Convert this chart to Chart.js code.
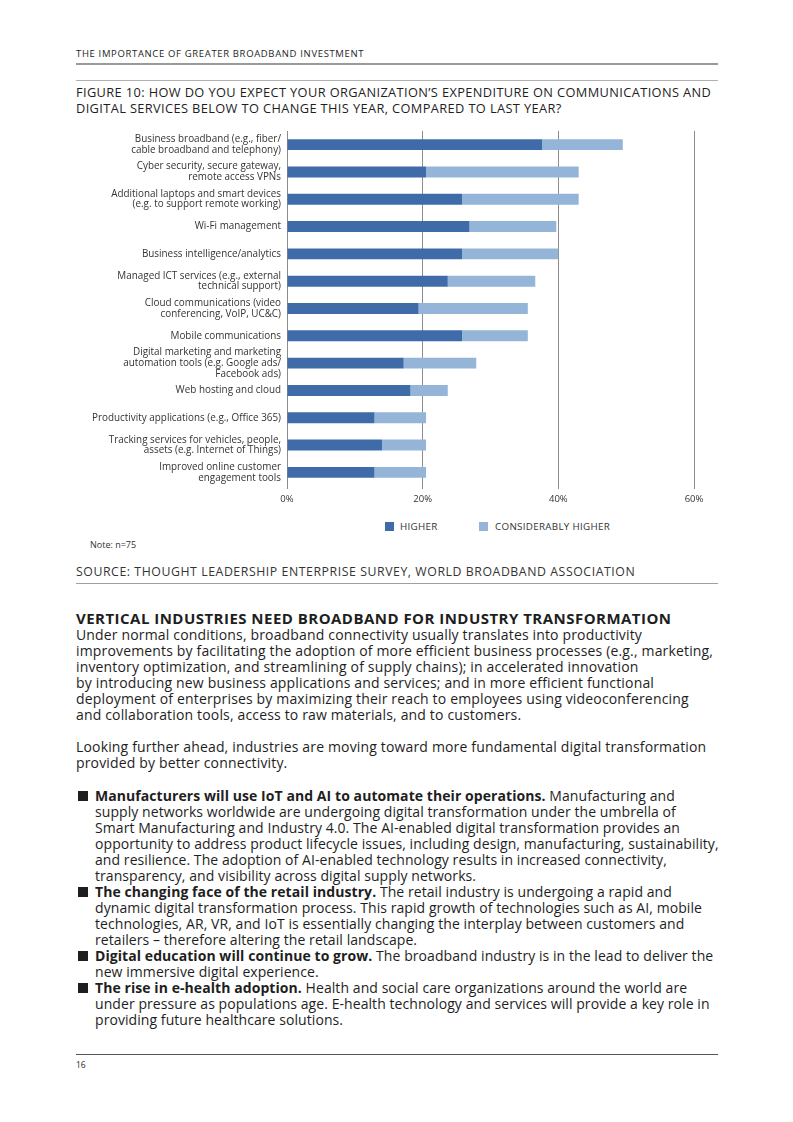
<!DOCTYPE html>
<html>
<head>
<meta charset="utf-8">
<script src="https://cdn.jsdelivr.net/npm/chart.js@4.4.0/dist/chart.umd.min.js"></script>
<style>
  body { margin: 0; background: #fff; font-family: "Open Sans", sans-serif; color: #1e1e1e; }
  .page { position: relative; width: 793px; height: 1122px; overflow: hidden; }
  .abs { position: absolute; white-space: nowrap; }
  .rule { position: absolute; left: 76px; width: 642px; }
  .header { left: 76px; top: 47px; font-size: 9.5px; letter-spacing: 0.65px; }
  .title { left: 76px; top: 84px; font-size: 12.8px; line-height: 16px; letter-spacing: 0.38px; }
  .legend { top: 520px; font-size: 9.8px; letter-spacing: 0.3px; color: #333; }
  .legend span.box { display: inline-block; width: 9px; height: 9px; vertical-align: top; }
  .note { left: 90px; top: 538px; font-size: 9px; color: #333; }
  .source { left: 76px; top: 563px; font-size: 12.3px; letter-spacing: 0.56px; color: #333; }
  .h2 { left: 76px; top: 608px; font-size: 15px; letter-spacing: 0.47px; font-weight: 700; }
  .body { left: 76px; font-size: 14px; letter-spacing: 0.16px; line-height: 16px; }
  .bul { position: absolute; left: 95px; font-size: 14px; letter-spacing: 0.07px; line-height: 16px; white-space: nowrap; }
  .sq { position: absolute; left: 78px; width: 10px; height: 10px; background: #1e1e1e; }
  .pg { left: 76px; top: 1059px; font-size: 8.5px; }
</style>
</head>
<body>
<div class="page">
  <div class="abs header">THE IMPORTANCE OF GREATER BROADBAND INVESTMENT</div>
  <div class="rule" style="top:63px;height:2px;background:#9a9a9a"></div>
  <div class="rule" style="top:80px;height:1px;background:#b0b0b0"></div>
  <div class="abs title">FIGURE 10: HOW DO YOU EXPECT YOUR ORGANIZATION’S EXPENDITURE ON COMMUNICATIONS AND<br>DIGITAL SERVICES BELOW TO CHANGE THIS YEAR, COMPARED TO LAST YEAR?</div>

  <canvas id="chart" width="640" height="381" style="position:absolute;left:80px;top:125px"></canvas>

  <div class="abs legend" style="left:385px;top:522px"><span class="box" style="background:#3f6ca8"></span></div>
  <div class="abs legend" style="left:400px">HIGHER</div>
  <div class="abs legend" style="left:479px;top:522px"><span class="box" style="background:#94b5d8"></span></div>
  <div class="abs legend" style="left:495px">CONSIDERABLY HIGHER</div>

  <div class="abs note">Note: n=75</div>
  <div class="abs source">SOURCE: THOUGHT LEADERSHIP ENTERPRISE SURVEY, WORLD BROADBAND ASSOCIATION</div>
  <div class="rule" style="top:583px;height:1px;background:#a0a0a0"></div>

  <div class="abs h2">VERTICAL INDUSTRIES NEED BROADBAND FOR INDUSTRY TRANSFORMATION</div>
  <div class="abs body" style="top:627px">Under normal conditions, broadband connectivity usually translates into productivity<br>improvements by facilitating the adoption of more efficient business processes (e.g., marketing,<br>inventory optimization, and streamlining of supply chains); in accelerated innovation<br>by introducing new business applications and services; and in more efficient functional<br>deployment of enterprises by maximizing their reach to employees using videoconferencing<br>and collaboration tools, access to raw materials, and to customers.</div>
  <div class="abs body" style="top:739px">Looking further ahead, industries are moving toward more fundamental digital transformation<br>provided by better connectivity.</div>

  <div class="sq" style="top:791px"></div>
  <div class="bul" style="top:788px"><b>Manufacturers will use IoT and AI to automate their operations.</b> Manufacturing and<br>supply networks worldwide are undergoing digital transformation under the umbrella of<br>Smart Manufacturing and Industry 4.0. The AI-enabled digital transformation provides an<br>opportunity to address product lifecycle issues, including design, manufacturing, sustainability,<br>and resilience. The adoption of AI-enabled technology results in increased connectivity,<br>transparency, and visibility across digital supply networks.</div>
  <div class="sq" style="top:887px"></div>
  <div class="bul" style="top:884px"><b>The changing face of the retail industry.</b> The retail industry is undergoing a rapid and<br>dynamic digital transformation process. This rapid growth of technologies such as AI, mobile<br>technologies, AR, VR, and IoT is essentially changing the interplay between customers and<br>retailers – therefore altering the retail landscape.</div>
  <div class="sq" style="top:951px"></div>
  <div class="bul" style="top:948px"><b>Digital education will continue to grow.</b> The broadband industry is in the lead to deliver the<br>new immersive digital experience.</div>
  <div class="sq" style="top:983px"></div>
  <div class="bul" style="top:980px"><b>The rise in e-health adoption.</b> Health and social care organizations around the world are<br>under pressure as populations age. E-health technology and services will provide a key role in<br>providing future healthcare solutions.</div>

  <div class="rule" style="top:1054px;height:1px;background:#555"></div>
  <div class="abs pg">16</div>
</div>

<script>
const categories = [
  ["Business broadband (e.g., fiber/", "cable broadband and telephony)"],
  ["Cyber security, secure gateway,", "remote access VPNs"],
  ["Additional laptops and smart devices", "(e.g. to support remote working)"],
  "Wi-Fi management",
  "Business intelligence/analytics",
  ["Managed ICT services (e.g., external", "technical support)"],
  ["Cloud communications (video", "conferencing, VoIP, UC&C)"],
  "Mobile communications",
  ["Digital marketing and marketing", "automation tools (e.g. Google ads/", "Facebook ads)"],
  "Web hosting and cloud",
  "Productivity applications (e.g., Office 365)",
  ["Tracking services for vehicles, people,", "assets (e.g. Internet of Things)"],
  ["Improved online customer", "engagement tools"]
];
const higher = [37.6, 20.5, 25.8, 26.9, 25.8, 23.7, 19.4, 25.8, 17.2, 18.2, 12.9, 14.0, 12.9];
const considerablyHigher = [11.9, 22.5, 17.2, 12.8, 14.2, 12.9, 16.1, 9.7, 10.7, 5.5, 7.6, 6.5, 7.6];
const xTicks = [0, 20, 40, 60];

const gridColor = "#8c8c8c";

new Chart(document.getElementById("chart"), {
  type: "bar",
  data: {
    labels: categories,
    datasets: [
      { label: "HIGHER", data: higher, backgroundColor: "#3f6ca8" },
      { label: "CONSIDERABLY HIGHER", data: considerablyHigher, backgroundColor: "#94b5d8" }
    ]
  },
  options: {
    indexAxis: "y",
    responsive: false,
    animation: false,
    layout: { padding: { top: 6, right: 26, bottom: 0, left: 0 } },
    categoryPercentage: 0.8,
    barPercentage: 0.5,
    plugins: { legend: { display: false }, tooltip: { enabled: false } },
    scales: {
      x: {
        stacked: true,
        min: 0,
        max: 60,
        afterBuildTicks: function (scale) {
          scale.ticks = xTicks.map(function (v) { return { value: v }; });
        },
        afterFit: function (scale) {
          scale.height = 20;
          scale.paddingLeft = 0;
          scale.paddingRight = 0;
        },
        border: { display: false },
        grid: { color: gridColor, lineWidth: 1, drawTicks: true, tickLength: 3 },
        ticks: {
          padding: 5,
          color: "#333",
          font: { family: "Open Sans", size: 9.5 },
          callback: function (v) { return v + "%"; }
        }
      },
      y: {
        stacked: true,
        afterFit: function (scale) {
          scale.width = 207;
          scale.paddingTop = 0;
          scale.paddingBottom = 0;
        },
        border: { display: true, color: gridColor, width: 1 },
        grid: { display: false, drawTicks: false },
        ticks: {
          autoSkip: false,
          padding: 6,
          color: "#333",
          font: { family: "Open Sans", size: 9.9, lineHeight: 1.08 }
        }
      }
    }
  }
});
</script>
</body>
</html>
